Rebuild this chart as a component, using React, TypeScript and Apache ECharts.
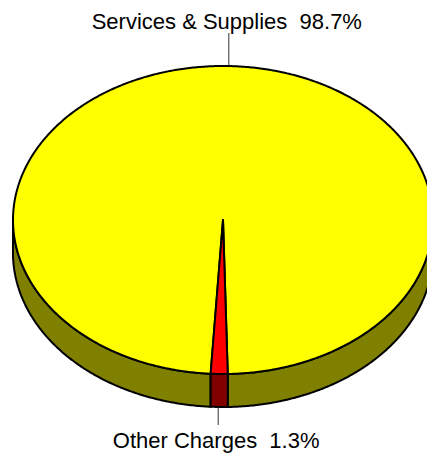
import React, { useEffect, useRef } from "react";
import * as echarts from "echarts";

const categories: string[] = ["Services & Supplies", "Other Charges"];
const values: number[] = [98.7, 1.3];
const percentLabels: string[] = ["98.7%", "1.3%"];
const topColors: string[] = ["#FFFF00", "#FF0000"];
const sideColors: string[] = ["#808000", "#800000"];

const CX = 223;
const CY = 220;
const RX = 210;
const RY = 154;
const DEPTH = 33;
const START = 183.38; // degrees, clockwise from 12 o'clock

function pt(tDeg: number, dy = 0): number[] {
  const t = (tDeg * Math.PI) / 180;
  return [CX + RX * Math.sin(t), CY - RY * Math.cos(t) + dy];
}

function arc(a0: number, a1: number, dy = 0): number[][] {
  const pts: number[][] = [];
  const n = Math.max(2, Math.ceil(Math.abs(a1 - a0) / 0.5));
  for (let i = 0; i <= n; i++) pts.push(pt(a0 + ((a1 - a0) * i) / n, dy));
  return pts;
}

function range(idx: number, api: any): number[] {
  const total = values.reduce((a, b) => a + b, 0);
  let acc = 0;
  for (let k = 0; k < idx; k++) acc += values[k];
  const v = api.value(0) as number;
  const a0 = START + (acc / total) * 360;
  return [a0, a0 + (v / total) * 360];
}

export default function App() {
  const ref = useRef<HTMLDivElement>(null);
  useEffect(() => {
    if (!ref.current) return;
    const chart = echarts.init(ref.current, null, { renderer: "svg" });
    const data = values.map((v, i) => ({ name: categories[i], value: v }));
    const stroke = { stroke: "#000", lineWidth: 2, lineJoin: "round" };
    chart.setOption({
      animation: false,
      backgroundColor: "#fff",
      series: [
        {
          type: "custom",
          coordinateSystem: "none",
          z: 1,
          silent: true,
          data,
          renderItem: (params: any, api: any) => {
            const [a0, a1] = range(params.dataIndex, api);
            const children: any[] = [];
            for (let k = -1; k <= 2; k++) {
              const s = Math.max(a0, 90 + 360 * k);
              const e = Math.min(a1, 270 + 360 * k);
              if (e > s) {
                const pts = arc(s, e, 0).concat(arc(e, s, DEPTH));
                children.push({
                  type: "polygon",
                  shape: { points: pts },
                  style: { fill: sideColors[params.dataIndex], ...stroke },
                });
              }
            }
            return { type: "group", children };
          },
        },
        {
          type: "custom",
          coordinateSystem: "none",
          z: 2,
          silent: true,
          data,
          renderItem: (params: any, api: any) => {
            const [a0, a1] = range(params.dataIndex, api);
            const pts = [[CX, CY]].concat(arc(a0, a1, 0));
            return {
              type: "polygon",
              shape: { points: pts },
              style: { fill: topColors[params.dataIndex], ...stroke },
            };
          },
        },
        {
          type: "custom",
          coordinateSystem: "none",
          z: 3,
          silent: true,
          data,
          renderItem: (params: any, api: any) => {
            const [a0, a1] = range(params.dataIndex, api);
            const m = (a0 + a1) / 2;
            const back = Math.cos((m * Math.PI) / 180) > 0;
            const edge = back ? pt(m, 0) : pt(m, DEPTH);
            const lineEnd = back ? 33 : 425;
            const textY = back ? 21 : 440;
            const x = edge[0] + (back ? 2 : -1);
            return {
              type: "group",
              children: [
                {
                  type: "line",
                  shape: { x1: x, y1: edge[1], x2: x, y2: lineEnd },
                  style: { stroke: "#333", lineWidth: 1 },
                },
                {
                  type: "text",
                  style: {
                    text: categories[params.dataIndex] + "  " + percentLabels[params.dataIndex],
                    x: x - 2,
                    y: textY,
                    align: "center",
                    verticalAlign: "middle",
                    fontSize: 22,
                    fontFamily: "Liberation Sans, Arial, sans-serif",
                    fill: "#000",
                  },
                },
              ],
            };
          },
        },
      ],
    });
    return () => chart.dispose();
  }, []);
  return (
    <div
      ref={ref}
      style={{ position: "fixed", left: 0, top: 0, width: 427, height: 453 }}
    />
  );
}
